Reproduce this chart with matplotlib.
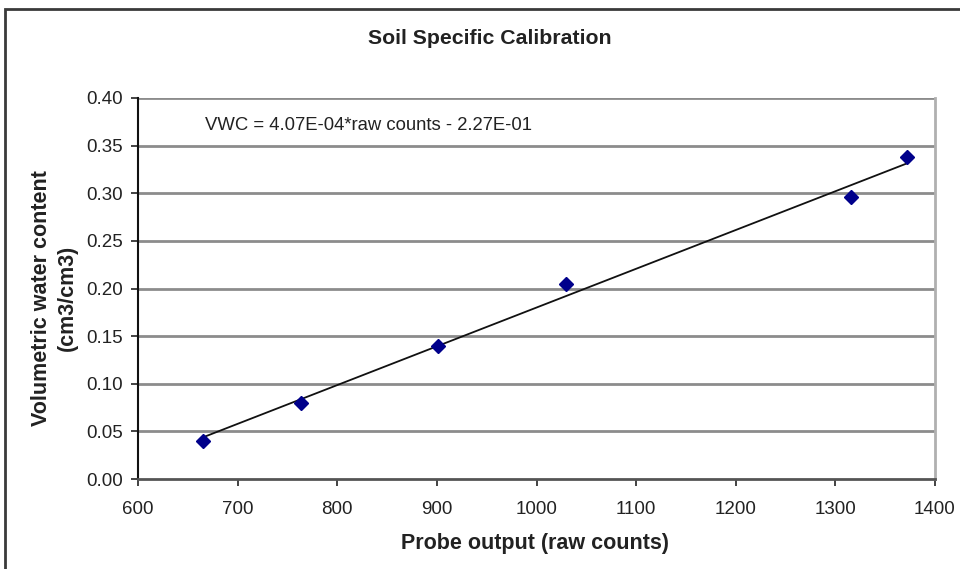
import matplotlib
matplotlib.use("Agg")
import matplotlib.pyplot as plt
from matplotlib.patches import Rectangle
import numpy as np

raw_counts = [665, 764, 901, 1030, 1316, 1372]
vwc = [0.040, 0.080, 0.140, 0.205, 0.296, 0.338]
slope = 4.07e-4
intercept = -0.227
x_ticks = [600, 700, 800, 900, 1000, 1100, 1200, 1300, 1400]
y_ticks = [0.00, 0.05, 0.10, 0.15, 0.20, 0.25, 0.30, 0.35, 0.40]

plt.rcParams['font.family'] = ['Liberation Sans', 'DejaVu Sans']

W, H = 960, 569
fig = plt.figure(figsize=(W / 100, H / 100), dpi=100)
ax = fig.add_axes([138 / W, 1 - 479 / H, (935 - 138) / W, (479 - 98) / H])

# outer chart frame
fig.patches.append(Rectangle((5 / W, -0.1), 1.2, 1 - 9 / H + 0.1, transform=fig.transFigure,
                             fill=False, edgecolor='#3a3a3a', linewidth=2.0, zorder=0))

ax.set_xlim(600, 1400)
ax.set_ylim(0, 0.40)
ax.set_xticks(x_ticks)
ax.set_yticks(y_ticks)
ax.set_yticklabels([f"{v:.2f}" for v in y_ticks])
ax.tick_params(axis='both', direction='out', length=5, width=1.2, color='#222222',
               labelsize=13.5, labelcolor='#222222', pad=6)
ax.tick_params(axis='x', pad=11)

for y in y_ticks[1:]:
    ax.axhline(y, color='#8c8c8c', linewidth=2.0, zorder=1)

ax.spines['left'].set_color('#111111')
ax.spines['left'].set_linewidth(1.5)
ax.spines['bottom'].set_color('#555555')
ax.spines['bottom'].set_linewidth(2.0)
ax.spines['top'].set_visible(False)
ax.spines['right'].set_color('#b0b0b0')
ax.spines['right'].set_linewidth(2.0)

xl = np.array([raw_counts[0], raw_counts[-1]])
ax.plot(xl, slope * xl + intercept, color='#111111', linewidth=1.3, zorder=3)
ax.plot(raw_counts, vwc, linestyle='none', marker='D', markersize=7,
        color='#00008b', zorder=4)

ax.text(205 / W, 1 - 125 / H, "VWC = 4.07E-04*raw counts - 2.27E-01",
        transform=fig.transFigure, fontsize=13.3, color='#222222', va='center', ha='left')

fig.text(490 / W, 1 - 39 / H, "Soil Specific Calibration", fontsize=15.3, fontweight='bold',
         ha='center', va='center', color='#222222')
fig.text(535 / W, 1 - 544 / H, "Probe output (raw counts)", fontsize=15.5, fontweight='bold',
         ha='center', va='center', color='#222222')
fig.text(42 / W, 1 - 298 / H, "Volumetric water content", fontsize=15.5, fontweight='bold',
         ha='center', va='center', rotation=90, color='#222222')
fig.text(67 / W, 1 - 298 / H, "(cm3/cm3)", fontsize=15.5, fontweight='bold',
         ha='center', va='center', rotation=90, color='#222222')

fig.savefig("out.png", dpi=100, facecolor='white')
